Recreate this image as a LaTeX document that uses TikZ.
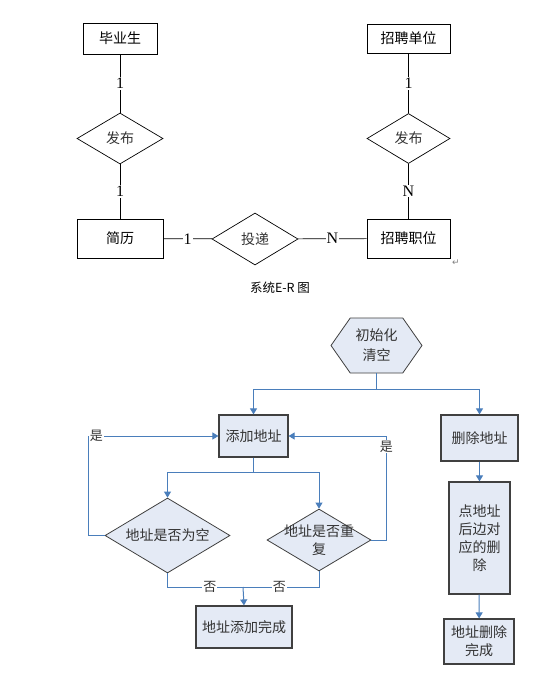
\documentclass[tikz,border=0pt]{standalone}
\usepackage{fontspec}
\setmainfont{Noto Sans CJK SC}
\newfontfamily\latinserif{Liberation Serif}
\newfontfamily\symfont{DejaVu Sans}
\usetikzlibrary{shapes.geometric,shapes.symbols,arrows.meta}
\definecolor{flowblue}{HTML}{4A7EBB}
\definecolor{boxfill}{HTML}{E4EAF5}
\definecolor{boxedge}{HTML}{404040}
\definecolor{textgray}{HTML}{333333}

\tikzset{
  erbox/.style={draw, line width=1pt, minimum width=86pt, minimum height=39pt, inner sep=0pt, font=\fontsize{14}{16}\selectfont},
  errel/.style={draw, diamond, line width=0.7pt, inner sep=0pt, minimum width=86pt, minimum height=51pt, text=textgray, font=\fontsize{14}{16}\selectfont},
  erline/.style={line width=0.7pt},
  card/.style={fill=white, inner sep=1pt, font=\latinserif\fontsize{16}{18}\selectfont},
  flowbox/.style={draw=boxedge, fill=boxfill, line width=1.2pt, align=center, inner sep=0pt, text=textgray, font=\fontsize{14}{18}\selectfont},
  flowdec/.style={draw=boxedge, fill=boxfill, diamond, line width=0.8pt, inner sep=0pt},
  dectext/.style={align=center, inner sep=0pt, text=textgray, font=\fontsize{14}{18}\selectfont},
  flowhex/.style={signal, signal to=east and west, signal pointer angle=110, draw=boxedge, fill=boxfill, line width=0.8pt, minimum width=91pt, minimum height=55pt, inner sep=0pt, align=center, text=textgray, font=\fontsize{14}{20}\selectfont},
  flowline/.style={draw=flowblue, line width=1pt},
  flowarrow/.style={flowline, -{Triangle[length=6pt,width=7pt]}},
  lbl/.style={fill=white, inner sep=1pt, text=textgray, font=\fontsize{13}{15}\selectfont}
}

\begin{document}
\begin{tikzpicture}[x=1pt,y=-1pt]
\useasboundingbox[fill=white] (0,0) rectangle (533,689);

% E-R diagram
\node[erbox, minimum width=74pt, minimum height=31pt] (grad) at (120,38.5) {毕业生};
\node[erbox, minimum width=83pt, minimum height=29pt] (company) at (408.5,38.5) {招聘单位};
\node[errel] (pub1) at (120,138.5) {发布};
\node[errel, minimum width=83pt, minimum height=50pt] (pub2) at (408.5,138.5) {发布};
\node[erbox] (resume) at (120,238.5) {简历};
\node[erbox, minimum width=83pt] (post) at (408.5,238.5) {招聘职位};
\node[errel, minimum height=52pt] (deliver) at (255,239) {投递};

\draw[erline] (grad) -- node[card] {1} (pub1);
\draw[erline] (pub1) -- node[card] {1} (resume);
\draw[erline] (company) -- node[card] {1} (pub2);
\draw[erline] (pub2) -- node[card] {N} (post);
\draw[erline] (resume) -- node[card] {1} (deliver);
\draw[erline] (deliver) -- node[card] {N} (post);

\node[font=\fontsize{12.5}{14}\selectfont] (caption) at (280,288) {系统E-R 图};
\node[text=gray, font=\symfont\fontsize{9}{10}\selectfont] (ret) at (456,263) {↵};

% flow chart
\node[flowhex] (init) at (376.5,345.5) {初始化\\清空};
\node[flowbox, minimum width=69pt, minimum height=42pt] (add) at (253.5,436) {添加地址};
\node[flowbox, minimum width=77pt, minimum height=46pt] (del) at (479.5,438) {删除地址};
\node[flowdec, minimum width=125pt, minimum height=75pt, label={[dectext]center:地址是否为空}] (empty) at (167.5,535.5) {};
\node[flowdec, minimum width=104pt, minimum height=62pt, label={[dectext]center:地址是否重\\复}] (dup) at (319,540) {};
\node[flowbox, minimum width=96pt, minimum height=42pt] (done) at (244,627) {地址添加完成};
\node[flowbox, minimum width=61pt, minimum height=112pt] (check) at (479.5,538) {点地址\\后边对\\应的删\\除};
\node[flowbox, minimum width=70pt, minimum height=45pt] (deldone) at (479,641.5) {地址删除\\完成};
\coordinate (join) at (243,587);

\draw[flowarrow] (init.south) -- ++(0,16) -| (add.north);
\draw[flowarrow] (init.south) -- ++(0,16) -| (del.north);
\draw[flowarrow] (add.south) -- ++(0,15) -| (empty.north);
\draw[flowarrow] (add.south) -- ++(0,15) -| (dup.north);
\draw[flowarrow] (empty.west) -- ++(-16,0) |- node[lbl, pos=0.53] {是} (add.west);
\draw[flowarrow] (dup.east) -- ++(15,0) |- node[lbl, pos=0.45] {是} (add.east);
\draw[flowline] (empty.south) |- node[lbl, pos=0.78] {否} (join);
\draw[flowline] (dup.south) |- node[lbl, pos=0.76] {否} (join);
\draw[flowarrow] (join) -- (done.north);
\draw[flowarrow] (del) -- (check);
\draw[flowarrow] (check) -- (deldone);
\end{tikzpicture}
\end{document}
